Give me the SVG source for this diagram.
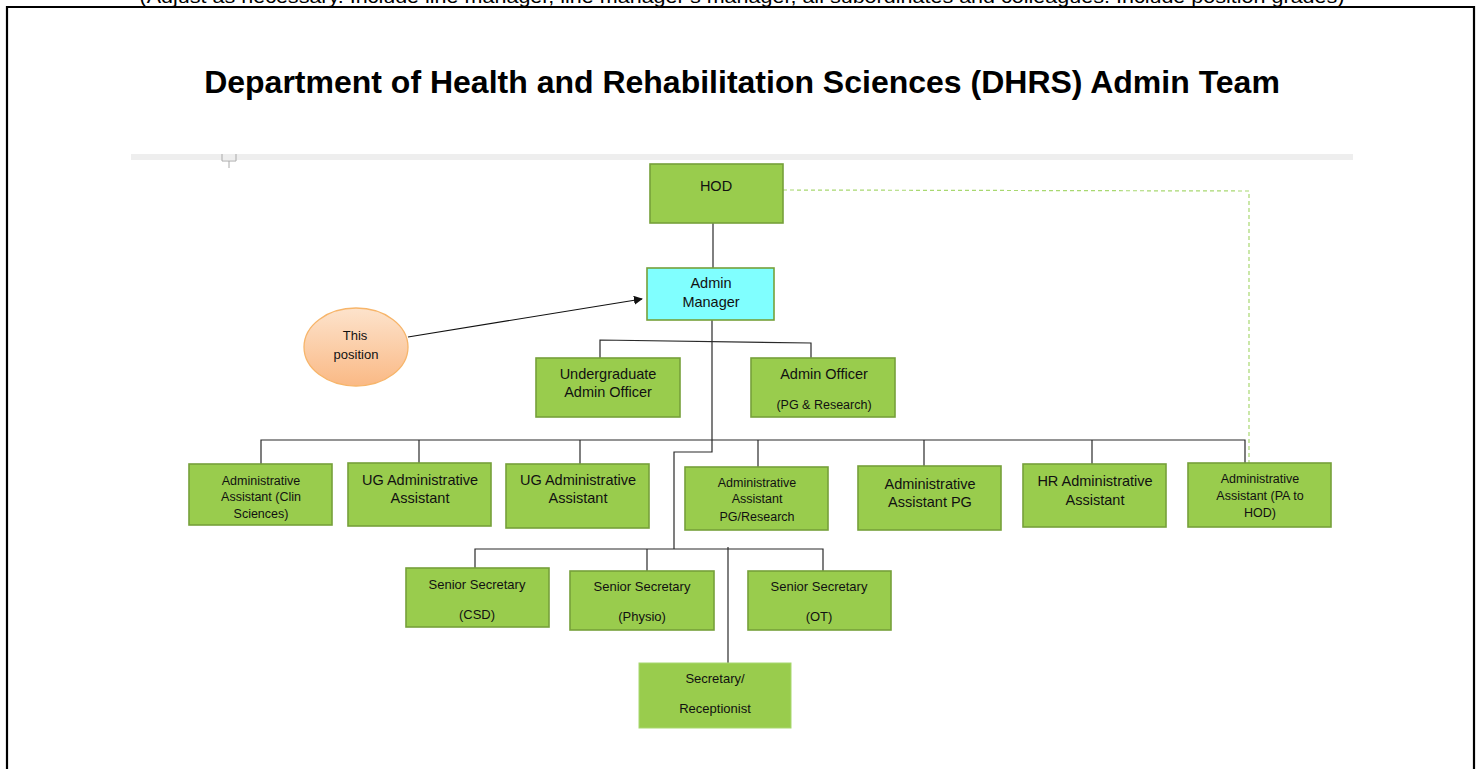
<svg xmlns="http://www.w3.org/2000/svg" width="1480" height="769" viewBox="0 0 1480 769">
<defs>
<style>
.box{fill:#99CC4D;stroke:#76A03A;stroke-width:1.6}
.t{font-family:"Liberation Sans",Arial,sans-serif;fill:#111;text-anchor:middle}
.s14{font-size:14.5px}
.s13{font-size:13px}
.s12{font-size:12.5px}
.ln{stroke:#2a2a2a;stroke-width:1.2;fill:none}
</style>
<linearGradient id="peach" x1="0" y1="0" x2="0" y2="1">
<stop offset="0" stop-color="#FDE3CC"/>
<stop offset="1" stop-color="#FAB985"/>
</linearGradient>
<marker id="arr" viewBox="0 0 10 10" refX="9" refY="5" markerWidth="9" markerHeight="9" markerUnits="userSpaceOnUse" orient="auto">
<path d="M0,0 L10,5 L0,10 z" fill="#111"/>
</marker>
</defs>
<rect width="1480" height="769" fill="#fff"/>
<text x="742" y="3" font-family="Liberation Sans,Arial,sans-serif" font-size="19" text-anchor="middle" textLength="1205" lengthAdjust="spacingAndGlyphs" fill="#000">(Adjust as necessary. Include line manager, line manager’s manager, all subordinates and colleagues. Include position grades)</text>
<path d="M7,769 V7 H1474 V769" fill="none" stroke="#000" stroke-width="2.2"/>
<text x="742" y="93" font-family="Liberation Sans,Arial,sans-serif" font-size="32" font-weight="bold" text-anchor="middle" fill="#000">Department of Health and Rehabilitation Sciences (DHRS) Admin Team</text>
<rect x="131" y="154" width="1222" height="6" fill="#EEEEEE"/>
<path d="M222,154 V161 H236 V154 M229,161 V168" fill="none" stroke="#aaa" stroke-width="1"/>

<g id="connectors">
<line class="ln" x1="713" y1="223" x2="713" y2="268"/>
<path class="ln" d="M712,320 V452 H674 V549"/>
<path class="ln" d="M600,358 V340 L811,343 V358"/>
<path class="ln" d="M261,464 V440 H1245 V464"/>
<line class="ln" x1="419" y1="440" x2="419" y2="463"/>
<line class="ln" x1="580" y1="440" x2="580" y2="464"/>
<line class="ln" x1="758" y1="440" x2="758" y2="467"/>
<line class="ln" x1="924" y1="440" x2="924" y2="466"/>
<line class="ln" x1="1092" y1="440" x2="1092" y2="464"/>
<path class="ln" d="M475,568 V549 H823 V571"/>
<line class="ln" x1="647" y1="549" x2="647" y2="571"/>
<line class="ln" x1="728" y1="547" x2="728" y2="663"/>
<path d="M783,190 L1249,191 V463" fill="none" stroke="#A8D870" stroke-width="1.2" stroke-dasharray="4,3"/>
<line x1="408" y1="337" x2="642" y2="299" stroke="#111" stroke-width="1.2" marker-end="url(#arr)"/>
</g>

<g id="hod"><rect class="box" x="650" y="164" width="133" height="59"/><text class="t s14" x="716" y="191">HOD</text></g>
<g id="admin-manager"><rect x="647" y="268" width="127" height="52" fill="#80FFFF" stroke="#76A03A" stroke-width="1.6"/><text class="t s14" x="711" y="288">Admin</text><text class="t s14" x="711" y="307">Manager</text></g>
<g id="this-position"><ellipse cx="356" cy="347" rx="52" ry="39" fill="url(#peach)" stroke="#F7B56A" stroke-width="1.3"/><text class="t s13" x="355" y="340">This</text><text class="t s13" x="356" y="359">position</text></g>
<g id="ug-admin-officer"><rect class="box" x="536" y="358" width="144" height="59"/><text class="t s14" x="608" y="379">Undergraduate</text><text class="t s14" x="608" y="397">Admin Officer</text></g>
<g id="admin-officer-pg"><rect class="box" x="751" y="358" width="144" height="59"/><text class="t s14" x="824" y="379">Admin Officer</text><text class="t s12" x="824" y="409">(PG &amp; Research)</text></g>

<g id="aa-clin"><rect class="box" x="189" y="464" width="143" height="61"/><text class="t s12" x="261" y="485">Administrative</text><text class="t s12" x="261" y="501">Assistant (Clin</text><text class="t s12" x="261" y="518">Sciences)</text></g>
<g id="ug-aa-1"><rect class="box" x="348" y="463" width="143" height="63"/><text class="t s14" x="420" y="485">UG Administrative</text><text class="t s14" x="420" y="503">Assistant</text></g>
<g id="ug-aa-2"><rect class="box" x="506" y="464" width="143" height="64"/><text class="t s14" x="578" y="485">UG Administrative</text><text class="t s14" x="578" y="503">Assistant</text></g>
<g id="aa-pg-research"><rect class="box" x="685" y="467" width="143" height="63"/><text class="t s12" x="757" y="487">Administrative</text><text class="t s12" x="757" y="503">Assistant</text><text class="t s12" x="757" y="521">PG/Research</text></g>
<g id="aa-pg"><rect class="box" x="858" y="466" width="143" height="64"/><text class="t s14" x="930" y="489">Administrative</text><text class="t s14" x="930" y="507">Assistant PG</text></g>
<g id="hr-aa"><rect class="box" x="1023" y="464" width="143" height="63"/><text class="t s14" x="1095" y="486">HR Administrative</text><text class="t s14" x="1095" y="505">Assistant</text></g>
<g id="aa-pa-hod"><rect class="box" x="1188" y="463" width="143" height="64"/><text class="t s12" x="1260" y="483">Administrative</text><text class="t s12" x="1260" y="500">Assistant (PA to</text><text class="t s12" x="1260" y="517">HOD)</text></g>

<g id="ss-csd"><rect class="box" x="406" y="568" width="143" height="59"/><text class="t s13" x="477" y="589">Senior Secretary</text><text class="t s13" x="477" y="619">(CSD)</text></g>
<g id="ss-physio"><rect class="box" x="570" y="571" width="144" height="59"/><text class="t s13" x="642" y="591">Senior Secretary</text><text class="t s13" x="642" y="621">(Physio)</text></g>
<g id="ss-ot"><rect class="box" x="748" y="571" width="143" height="59"/><text class="t s13" x="819" y="591">Senior Secretary</text><text class="t s13" x="819" y="621">(OT)</text></g>
<g id="secretary-receptionist"><rect x="639" y="663" width="152" height="65" fill="#99CC4D" stroke="#A8D870" stroke-width="1"/><text class="t s13" x="715" y="683">Secretary/</text><text class="t s13" x="715" y="713">Receptionist</text></g>
</svg>
